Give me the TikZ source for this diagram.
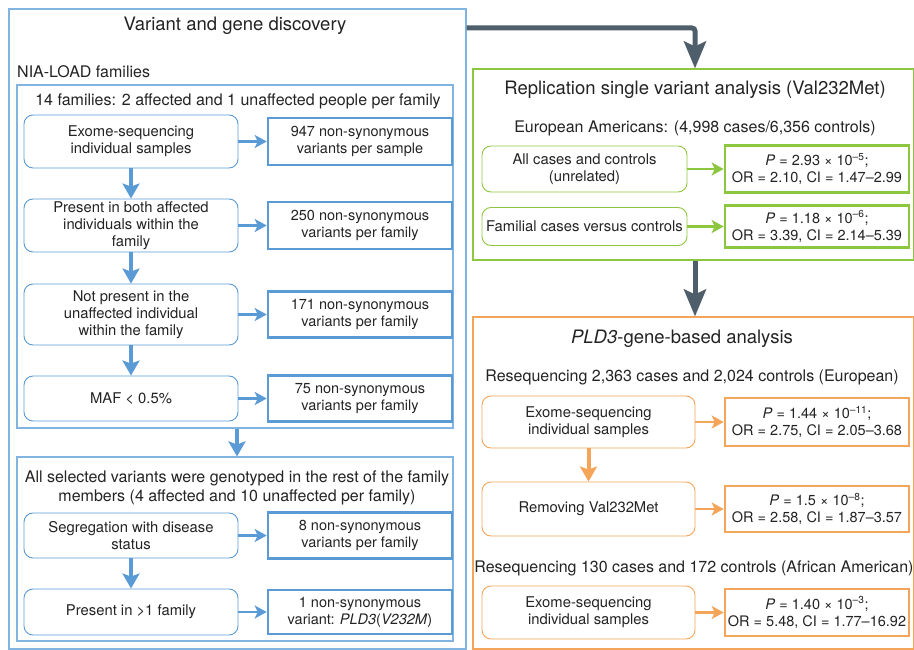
\documentclass[tikz,border=0pt]{standalone}
\usepackage{fontspec}
\setmainfont{TeX Gyre Heros}
\usetikzlibrary{arrows.meta}
\definecolor{vdBlue}{RGB}{91,155,213}
\definecolor{vdPanel}{RGB}{130,180,225}
\definecolor{vdGreen}{RGB}{141,198,63}
\definecolor{vdOrange}{RGB}{245,165,90}
\definecolor{vdSlate}{RGB}{78,94,106}
\definecolor{vdText}{RGB}{35,35,35}
\tikzset{
    base/.style={font=\fontsize{14.5}{17}\selectfont, align=center, text=vdText, inner sep=0pt},
    heading/.style={base, font=\fontsize{18.5}{22}\selectfont},
    subhead/.style={base, font=\fontsize{16}{19}\selectfont},
    panel/.style={draw=#1, line width=1.1pt, fill=none},
    stepbox/.style={base, font=\fontsize{14.8}{17}\selectfont, rectangle, rounded corners=9pt,
                    draw=#1, line width=0.9pt, minimum width=214pt},
    resbox/.style={base, rectangle, draw=#1, line width=2.6pt, minimum width=184pt},
    flow/.style={draw=#1, line width=2.6pt, -{Stealth[length=12pt, width=13pt, inset=3pt]}},
    drop/.style={draw=#1, line width=4pt, -{Stealth[length=15pt, width=17pt, inset=3pt]}},
    bigdrop/.style={draw=vdSlate, line width=5pt, rounded corners=3pt,
                    -{Stealth[length=27pt, width=22pt, inset=5pt]}}
}

\begin{document}
\begin{tikzpicture}[x=1pt, y=-1pt]
  \useasboundingbox (0,0) rectangle (914,650);

  % Panels
  \node[panel=vdPanel, minimum width=457pt, minimum height=640pt] (discovery) at (237.5,329) {};
  \node[panel=vdPanel, minimum width=436pt, minimum height=343pt] (families) at (235,256.5) {};
  \node[panel=vdPanel, minimum width=436pt, minimum height=184pt] (genotyped) at (235,549) {};
  \node[panel=vdGreen, minimum width=441pt, minimum height=191pt] (replication) at (693.5,164.5) {};
  \node[panel=vdOrange, minimum width=441pt, minimum height=332pt] (genebased) at (693.5,483) {};

  % Headings
  \node[heading] (discTitle) at (235,26) {Variant and gene discovery};
  \node[subhead, anchor=west] (niaLoad) at (17,72) {NIA-LOAD families};
  \node[subhead] (famText) at (238,101) {14 families: 2 affected and 1 unaffected people per family};
  \node[subhead] (genoText) at (237,487.5) {All selected variants were genotyped in the rest of the family\\members (4 affected and 10 unaffected per family)};
  \node[heading] (repTitle) at (695,90) {Replication single variant analysis (Val232Met)};
  \node[subhead] (euroAm) at (695,128) {European Americans: (4,998 cases/6,356 controls)};
  \node[heading] (geneTitle) at (682,339) {\textit{PLD3}-gene-based analysis};
  \node[subhead] (reseqEu) at (692,377) {Resequencing 2,363 cases and 2,024 controls (European)};
  \node[subhead] (reseqAf) at (694,568) {Resequencing 130 cases and 172 controls (African American)};

  % Discovery steps
  \node[stepbox=vdBlue, minimum height=53pt] (exome) at (131,141.5) {Exome-sequencing\\individual samples};
  \node[stepbox=vdBlue, minimum height=53pt] (bothAff) at (131,225.5) {Present in both affected\\individuals within the\\family};
  \node[stepbox=vdBlue, minimum height=61pt] (notUnaff) at (131,314.5) {Not present in the\\unaffected individual\\within the family};
  \node[stepbox=vdBlue, minimum height=45pt] (maf) at (131,398.5) {MAF < 0.5\%};
  \node[stepbox=vdBlue, minimum height=45pt] (segreg) at (131,535.5) {Segregation with disease\\status};
  \node[stepbox=vdBlue, minimum height=46pt] (multiFam) at (131,612) {Present in >1 family};

  \node[resbox=vdBlue, minimum height=47pt] (nsPerSample) at (360,141.5) {947 non-synonymous\\variants per sample};
  \node[resbox=vdBlue, minimum height=47pt] (ns250) at (360,225.5) {250 non-synonymous\\variants per family};
  \node[resbox=vdBlue, minimum height=46pt] (ns171) at (360,314.5) {171 non-synonymous\\variants per family};
  \node[resbox=vdBlue, minimum height=46pt] (ns75) at (360,398.5) {75 non-synonymous\\variants per family};
  \node[resbox=vdBlue, minimum height=46pt] (ns8) at (360,535.5) {8 non-synonymous\\variants per family};
  \node[resbox=vdBlue, minimum height=44pt] (ns1) at (360,612) {1 non-synonymous\\variant: \textit{PLD3}(\textit{V232M})};

  % Replication steps
  \node[stepbox=vdGreen, minimum width=205pt, minimum height=46pt] (allCases) at (584.5,169) {All cases and controls\\(unrelated)};
  \node[stepbox=vdGreen, minimum width=205pt, minimum height=38pt] (familial) at (584.5,226.5) {Familial cases versus controls};
  \node[resbox=vdGreen, minimum height=47pt] (repAll) at (817,169) {\textit{P} = 2.93 × 10\textsuperscript{\textendash5};\\OR = 2.10, CI = 1.47\textendash2.99};
  \node[resbox=vdGreen, minimum height=42pt] (repFam) at (817,226.5) {\textit{P} = 1.18 × 10\textsuperscript{\textendash6};\\OR = 3.39, CI = 2.14\textendash5.39};

  % Gene-based steps
  \node[stepbox=vdOrange, minimum width=213pt, minimum height=52pt] (exomeEu) at (588.5,422) {Exome-sequencing\\individual samples};
  \node[stepbox=vdOrange, minimum width=213pt, minimum height=54pt] (noVal) at (588.5,509) {Removing Val232Met};
  \node[stepbox=vdOrange, minimum width=213pt, minimum height=53pt] (exomeAf) at (588.5,612.5) {Exome-sequencing\\individual samples};
  \node[resbox=vdOrange, minimum height=48pt] (geneEu) at (817,422) {\textit{P} = 1.44 × 10\textsuperscript{\textendash11};\\OR = 2.75, CI = 2.05\textendash3.68};
  \node[resbox=vdOrange, minimum height=46pt] (geneNoVal) at (817,509) {\textit{P} = 1.5 × 10\textsuperscript{\textendash8};\\OR = 2.58, CI = 1.87\textendash3.57};
  \node[resbox=vdOrange, minimum height=47pt] (geneAf) at (817,612.5) {\textit{P} = 1.40 × 10\textsuperscript{\textendash3};\\OR = 5.48, CI = 1.77\textendash16.92};

  % Arrows within panels
  \foreach \a/\b in {exome/nsPerSample, bothAff/ns250, notUnaff/ns171, maf/ns75, segreg/ns8, multiFam/ns1}
    \draw[flow=vdBlue] (\a) -- (\b);
  \foreach \a/\b in {exome/bothAff, bothAff/notUnaff, notUnaff/maf, segreg/multiFam}
    \draw[drop=vdBlue] (\a) -- (\b);
  \draw[drop=vdBlue] (families.south -| genoText) -- (genotyped.north -| genoText);
  \foreach \a/\b in {allCases/repAll, familial/repFam}
    \draw[flow=vdGreen] (\a) -- (\b);
  \foreach \a/\b in {exomeEu/geneEu, noVal/geneNoVal, exomeAf/geneAf}
    \draw[flow=vdOrange] (\a) -- (\b);
  \draw[drop=vdOrange] (exomeEu) -- (noVal);

  % Links between panels
  \coordinate (corner) at (695,28);
  \draw[bigdrop] (discovery.east |- corner) -- (corner) -- (replication.north -| corner);
  \draw[bigdrop] (replication.south -| corner) -- (genebased.north -| corner);
\end{tikzpicture}
\end{document}
